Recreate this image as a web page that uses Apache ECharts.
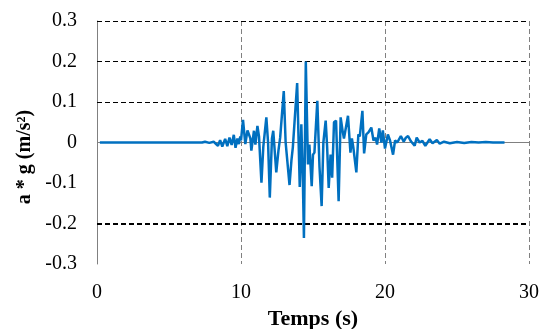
<!DOCTYPE html>
<html>
<head>
<meta charset="utf-8">
<script src="https://cdn.jsdelivr.net/npm/echarts@6/dist/echarts.min.js"></script>
<style>html,body{margin:0;padding:0;background:#fff;}#c{width:548px;height:329px;}</style>
</head>
<body>
<div id="c"></div>
<script>
var xTicks = [0, 10, 20, 30];
var yTicks = [-0.3, -0.2, -0.1, 0, 0.1, 0.2, 0.3];
var dashedLevels = [0.3, 0.2, 0.1, -0.2];
var times = [0.2, 7.3, 7.5, 7.8, 8.1, 8.25, 8.4, 8.55, 8.7, 8.9, 9.05, 9.2, 9.35, 9.5, 9.62, 9.75, 9.85, 9.95,
  10.0, 10.14, 10.3, 10.45, 10.55, 10.65, 10.72, 10.9, 11.0, 11.14, 11.25, 11.42, 11.55, 11.76, 11.88, 12.0,
  12.15, 12.24, 12.32, 12.45, 12.6, 12.72, 12.97, 13.1, 13.37, 13.5, 13.6, 13.9, 14.08, 14.19, 14.3, 14.37,
  14.5, 14.65, 14.75, 14.91, 15.0, 15.1, 15.3, 15.45, 15.6, 15.72, 15.88, 15.98, 16.09, 16.22, 16.33, 16.46,
  16.6, 16.78, 16.92, 17.05, 17.15, 17.25, 17.43, 17.6, 17.7, 17.8, 18.01, 18.15, 18.25, 18.43, 18.55, 18.7,
  18.85, 19.05, 19.2, 19.35, 19.45, 19.6, 19.75, 19.85, 20.0, 20.2, 20.35, 20.56, 20.7, 20.85, 21.1, 21.3,
  21.45, 21.6, 21.8, 22.06, 22.2, 22.4, 22.6, 22.8, 23.1, 23.3, 23.6, 23.8, 24.1, 24.5, 25.0, 25.5, 26.0,
  26.5, 27.0, 27.5, 28.3];
var accel = [0, 0, 0.002, -0.001, 0.002, -0.003, -0.008, 0.006, -0.01, 0.009, -0.009, 0.012, -0.006, 0.019, -0.013, 0.01, -0.004, 0.015,
  0.005, 0.056, -0.004, 0.03, 0.033, 0.01, -0.02, 0.029, -0.005, 0.041, 0.015, -0.099, -0.01, 0.062, 0.0, -0.136,
  0.01, 0.029, 0.033, -0.074, -0.02, 0.012, 0.127, 0.0, -0.105, -0.045, -0.012, 0.147, -0.11, 0.045, -0.1, -0.236,
  0.2, -0.054, -0.005, -0.108, -0.03, -0.025, 0.103, -0.06, -0.157, 0.0, 0.054, -0.01, -0.112, -0.03, -0.087, 0.05,
  0.054, -0.145, 0.062, 0.03, 0.01, 0.03, 0.066, -0.025, 0.01, -0.012, -0.074, 0.02, 0.015, 0.078, -0.027, 0.02,
  0.025, 0.037, 0.005, 0.012, -0.005, 0.035, 0.0, 0.03, -0.015, 0.02, 0.005, -0.03, 0.005, 0.0, 0.016, 0.002,
  0.012, 0.016, 0.003, -0.008, 0.012, 0.0, 0.004, -0.008, 0.008, -0.002, 0.006, -0.003, 0.002, -0.002, 0.001, -0.001, 0.001,
  0.0, 0.001, 0.0, 0.0];

var seriesData = times.map(function (t, i) { return [t, accel[i]]; });
var font = '"Liberation Serif", "Times New Roman", serif';

var chart = echarts.init(document.getElementById('c'), null, {renderer: 'canvas'});
chart.setOption({
  animation: false,
  backgroundColor: '#ffffff',
  grid: {left: 97, right: 19, top: 21, bottom: 65, containLabel: false, outerBoundsMode: 'none'},
  xAxis: {
    type: 'value', min: xTicks[0], max: xTicks[xTicks.length - 1], interval: 10,
    axisLine: {show: false}, axisTick: {show: false},
    axisLabel: {color: '#000', fontFamily: font, fontSize: 20, margin: 19},
    splitLine: {show: true, lineStyle: {color: '#808080', type: [5, 3], width: 1}},
    name: 'Temps (s)', nameLocation: 'middle', nameGap: 44,
    nameTextStyle: {color: '#000', fontFamily: font, fontSize: 22, fontWeight: 'bold'}
  },
  yAxis: {
    type: 'value', min: yTicks[0], max: yTicks[yTicks.length - 1], interval: 0.1,
    axisLine: {show: true, onZero: false, lineStyle: {color: '#808080', width: 1}},
    axisTick: {show: false},
    axisLabel: {color: '#000', fontFamily: font, fontSize: 20, margin: 20, padding: [4, 0, 0, 0],
      formatter: function (v) { return String(Math.round(v * 10) / 10); }},
    splitLine: {show: false}
  },
  graphic: [{
    type: 'text', x: 25, y: 157, rotation: Math.PI / 2,
    style: {text: 'a * g (m/s²)', fill: '#000', font: 'bold 20px ' + font, align: 'center', verticalAlign: 'middle'}
  }],
  series: [{
    type: 'line', data: seriesData, showSymbol: false, smooth: false,
    lineStyle: {color: '#0070C0', width: 2.5}, itemStyle: {color: '#0070C0'},
    z: 5,
    markLine: {
      silent: true, symbol: 'none', label: {show: false}, animation: false,
      data: [{yAxis: 0, lineStyle: {color: '#808080', type: 'solid', width: 1}}].concat(
        dashedLevels.map(function (v) {
          return {yAxis: v, lineStyle: {color: '#000', type: [5, 3], width: v === -0.2 ? 2 : 1}};
        }))
    }
  }]
});
</script>
</body>
</html>
